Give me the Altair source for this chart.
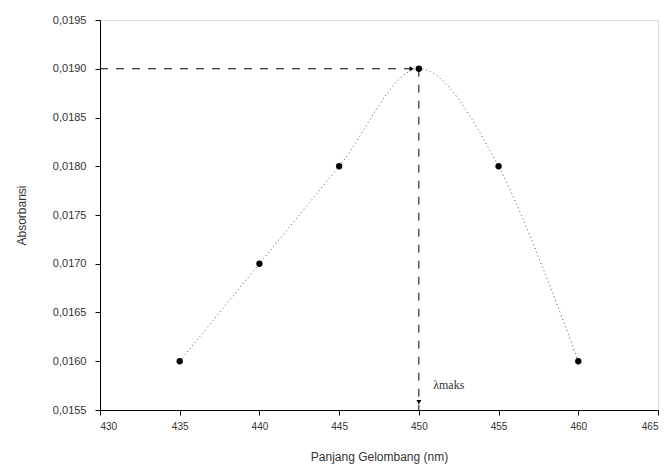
import altair as alt
import pandas as pd

wavelength = [435, 440, 445, 450, 455, 460]
absorbance = [0.0160, 0.0170, 0.0180, 0.0190, 0.0180, 0.0160]

peak_x = 450
peak_y = 0.0190
x_min, x_max = 430, 465
y_min, y_max = 0.0155, 0.0195

df = pd.DataFrame({"x": wavelength, "y": absorbance})
hline = pd.DataFrame({"x": [x_min, peak_x], "y": [peak_y, peak_y]})
vline = pd.DataFrame({"x": [peak_x, peak_x], "y": [peak_y, y_min]})
arrows = pd.DataFrame({"x": [449.55, peak_x], "y": [peak_y, 0.01558],
                       "s": ["triangle-right", "triangle-down"]})
label = pd.DataFrame({"x": [450.9], "y": [0.01576], "t": ["λmaks"]})

xs = alt.Scale(domain=[x_min, x_max], nice=False, zero=False)
ys = alt.Scale(domain=[y_min, y_max], nice=False, zero=False)

xax = alt.Axis(values=[430, 435, 440, 445, 450, 455, 460, 465], grid=False,
               title="Panjang Gelombang (nm)", titleFontWeight="normal",
               titleFontSize=12, titlePadding=20, labelFontSize=10, labelPadding=6,
               tickSize=5, domainColor="black", tickColor="black",
               labelColor="#333", titleColor="#333")
yax = alt.Axis(values=[0.0155, 0.0160, 0.0165, 0.0170, 0.0175, 0.0180, 0.0185, 0.0190, 0.0195],
               grid=False, title="Absorbansi", titleFontWeight="normal",
               titleFontSize=12, titlePadding=24, labelFontSize=11, labelPadding=9,
               labelExpr="replace(format(datum.value, '.4f'), '.', ',')",
               tickSize=5, domainColor="black", tickColor="black",
               labelColor="#333", titleColor="#333")

base = alt.Chart(df)

curve = base.mark_line(interpolate="cardinal", color="#555", strokeWidth=1,
                       strokeDash=[1, 3]).encode(
    x=alt.X("x:Q", scale=xs, axis=xax),
    y=alt.Y("y:Q", scale=ys, axis=yax),
)
pts = base.mark_circle(size=40, color="black", opacity=1).encode(
    x=alt.X("x:Q", scale=xs), y=alt.Y("y:Q", scale=ys))

h = alt.Chart(hline).mark_line(color="black", strokeDash=[8, 8], strokeWidth=1).encode(
    x=alt.X("x:Q", scale=xs), y=alt.Y("y:Q", scale=ys))
v = alt.Chart(vline).mark_line(color="black", strokeDash=[8, 8], strokeWidth=1).encode(
    x=alt.X("x:Q", scale=xs), y=alt.Y("y:Q", scale=ys))
arr = alt.Chart(arrows).mark_point(filled=True, size=25, color="black", opacity=1).encode(
    x=alt.X("x:Q", scale=xs), y=alt.Y("y:Q", scale=ys),
    shape=alt.Shape("s:N", scale=None))

txt = alt.Chart(label).mark_text(align="left", baseline="middle", font="Liberation Serif",
                                 fontSize=12, color="#333").encode(
    x=alt.X("x:Q", scale=xs), y=alt.Y("y:Q", scale=ys), text="t:N")

chart = alt.layer(h, v, arr, curve, pts, txt).properties(
    width=558, height=390,
    autosize=alt.AutoSizeParams(type="none"),
    padding={"left": 92, "top": 12, "right": 6, "bottom": 62},
).configure_view(stroke="black", strokeWidth=1).configure_axis(
    labelFont="Liberation Sans", titleFont="Liberation Sans"
).configure(background="white")

chart.save("out.html", embed_options={"renderer": "svg", "actions": False})
